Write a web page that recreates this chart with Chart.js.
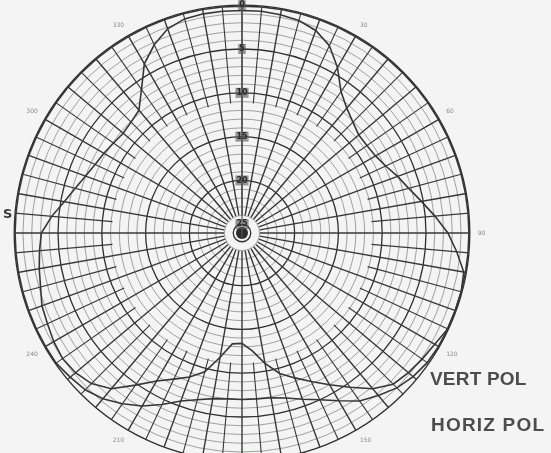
<!DOCTYPE html>
<html>
<head>
<meta charset="utf-8">
<script src="https://cdn.jsdelivr.net/npm/chart.js@4.4.0/dist/chart.umd.min.js"></script>
<style>
  html, body { margin: 0; padding: 0; width: 551px; height: 453px; overflow: hidden; background: #f3f4f3; }
  #wrap { position: absolute; left: -18px; top: -1px; width: 520px; height: 468px; }
  .key { position: absolute; font-family: 'Liberation Sans', Arial, sans-serif; font-weight: 700;
         font-size: 19px; color: #4d4d4d; }
  .side { position: absolute; left: 3px; top: 206px; font-family: 'DejaVu Sans', sans-serif;
          font-weight: 700; font-size: 13px; color: #3a3a3a; }
</style>
</head>
<body>
<div id="wrap"><canvas id="pattern"></canvas></div>
<div class="side">S</div>
<div class="key" style="left:430px; top:368px; letter-spacing:0.2px;">VERT POL</div>
<div class="key" style="left:431px; top:414px; letter-spacing:1.2px;">HORIZ POL</div>
<script>
// bearing of every 5 degree spoke, clockwise from the top
const bearings = [
  0, 5, 10, 15, 20, 25, 30, 35, 40, 45, 50, 55, 60, 65, 70, 75, 80, 85,
  90, 95, 100, 105, 110, 115, 120, 125, 130, 135, 140, 145, 150, 155, 160, 165, 170, 175,
  180, 185, 190, 195, 200, 205, 210, 215, 220, 225, 230, 235, 240, 245, 250, 255, 260, 265,
  270, 275, 280, 285, 290, 295, 300, 305, 310, 315, 320, 325, 330, 335, 340, 345, 350, 355
];

// printed bearing marks round the rim
const rimMarks = { 30: '30', 60: '60', 90: '90', 120: '120', 150: '150', 210: '210', 240: '240', 300: '300', 330: '330' };

// ring labels along the 0 degree spoke (dB)
const ringLabels = [0, -5, -10, -15, -20, -25];

// relative level in dB at each bearing
const vertPol = [
  -0.1, -0.1, -0.1, -0.1, -0.1, -0.1, -0.1, -0.1, -0.1, -0.1, -0.1, -0.1, -0.1, -0.1, -0.1, -0.1, -0.1, -0.1,
  -0.1, -0.1, -0.1, -0.1, -0.1, -0.1, -0.1, -0.2, -0.5, -1.0, -1.8, -2.6, -3.9, -5.0, -5.8, -6.5, -6.9, -7.0,
  -7.0, -7.0, -6.8, -6.3, -5.6, -4.4, -3.2, -2.2, -1.3, -0.7, -0.4, -0.1, -0.1, -0.1, -0.1, -0.1, -0.1, -0.1,
  -0.1, -0.1, -0.1, -0.1, -0.1, -0.1, -0.1, -0.1, -0.1, -0.1, -0.1, -0.1, -0.1, -0.1, -0.1, -0.1, -0.1, -0.1
];

const horizPol = [
  -0.6, -0.6, -0.7, -0.9, -1.4, -2.4, -4.2, -6.3, -7.4, -8.1, -8.6, -8.6, -8.4, -7.9, -7.1, -6.3, -5.2, -3.9,
  -2.5, -1.4, -0.3, -0.1, -0.1, -0.1, -0.6, -0.9, -1.2, -1.6, -2.8, -4.5, -6.0, -7.3, -8.4, -9.4, -10.9, -12.5,
  -13.4, -13.3, -11.6, -9.6, -8.5, -7.6, -6.5, -4.8, -2.8, -1.7, -1.2, -1.0, -1.2, -1.5, -1.7, -2.2, -2.5, -2.8,
  -3.1, -4.2, -5.4, -6.3, -7.0, -7.5, -7.8, -8.1, -8.3, -8.1, -7.7, -6.0, -3.7, -2.3, -1.2, -0.7, -0.6, -0.6
];

const isMajorRing = v => Math.abs(v - Math.round(v / 5) * 5) < 1e-6;

// solid hub at the middle of the chart paper
const hubDot = {
  id: 'hubDot',
  afterDatasetsDraw(chart) {
    const s = chart.scales.r;
    const c = chart.ctx;
    c.save();
    c.fillStyle = '#2c2c2c';
    c.beginPath();
    c.arc(s.xCenter, s.yCenter, 6, 0, Math.PI * 2);
    c.fill();
    c.restore();
  }
};

const ctx = document.getElementById('pattern').getContext('2d');

new Chart(ctx, {
  type: 'radar',
  data: {
    labels: bearings,
    datasets: [
      { label: 'VERT POL', data: vertPol, borderColor: '#363636', borderWidth: 1.6, fill: false, pointRadius: 0 },
      { label: 'HORIZ POL', data: horizPol, borderColor: '#363636', borderWidth: 1.6, fill: false, pointRadius: 0 }
    ]
  },
  options: {
    responsive: true,
    maintainAspectRatio: false,
    animation: false,
    layout: { padding: 0 },
    plugins: { legend: { display: false }, tooltip: { enabled: false } },
    scales: {
      r: {
        min: -26,
        max: 0,
        startAngle: 0,
        beginAtZero: false,
        ticks: {
          stepSize: 1 / 3,
          z: 1,
          color: '#2b2b2b',
          font: { size: 8, weight: 'bold', family: 'DejaVu Sans' },
          showLabelBackdrop: true,
          backdropColor: 'rgba(85,85,85,0.6)',
          backdropPadding: 1,
          callback: v => {
            const n = Math.round(v);
            return (isMajorRing(v) && ringLabels.includes(n)) ? String(Math.abs(n)) : '';
          }
        },
        grid: {
          circular: true,
          color: c => isMajorRing(c.tick.value) ? '#2f2f2f' : '#8f928f',
          lineWidth: c => isMajorRing(c.tick.value) ? 1.3 : 0.85
        },
        angleLines: {
          color: '#383838',
          lineWidth: c => c.index % 2 ? 1.1 : 1.4,
          borderDash: c => c.index % 2 ? [0, 130, 400, 0] : [0, 18, 400, 0]
        },
        pointLabels: {
          color: '#8a8a8a',
          font: c => rimMarks[bearings[c.index]] ? { size: 6, family: 'DejaVu Sans' } : { size: 1 },
          padding: c => rimMarks[bearings[c.index]] ? 3 : 0,
          callback: (label) => rimMarks[label] || ''
        }
      }
    }
  },
  plugins: [hubDot]
});
</script>
</body>
</html>
